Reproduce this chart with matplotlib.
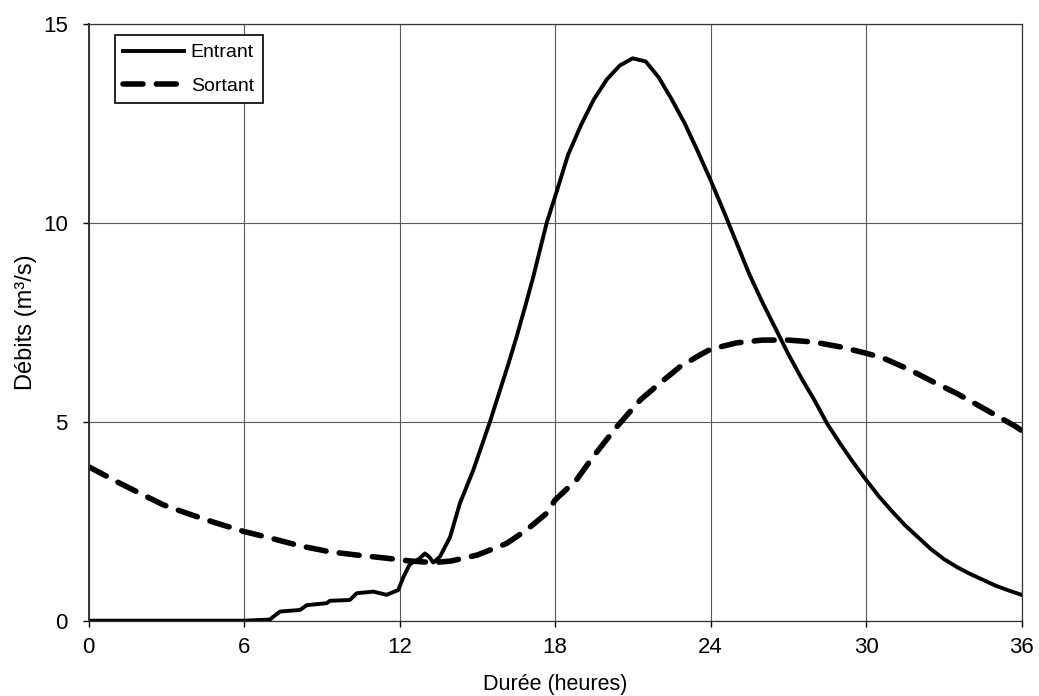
import matplotlib
matplotlib.use("Agg")
import matplotlib.pyplot as plt

plt.rcParams['font.family'] = ['Liberation Sans', 'DejaVu Sans']

# Débit entrant (m3/s)
entrant_t = [0, 6.0, 7.0, 7.13, 7.39, 8.16, 8.42, 9.19, 9.31, 10.08, 10.35, 10.99,
             11.5, 11.95, 12.15, 12.4, 12.79, 12.98, 13.15, 13.3, 13.56, 13.95,
             14.33, 14.85, 15.2, 15.49, 15.88, 16.2, 16.52, 16.85, 17.16, 17.45,
             17.68, 18.0, 18.5, 19.0, 19.5, 20.0, 20.5, 21.0, 21.5, 22.0, 22.5,
             23.0, 23.5, 24.0, 24.5, 25.0, 25.5, 26.0, 26.5, 27.0, 27.5, 28.0,
             28.5, 29.0, 29.5, 30.0, 30.5, 31.0, 31.5, 32.0, 32.5, 33.0, 33.5,
             34.0, 34.5, 35.0, 35.5, 36.0]
entrant_q = [0, 0, 0.03, 0.1, 0.23, 0.27, 0.39, 0.44, 0.5, 0.52, 0.69, 0.73,
             0.65, 0.77, 1.1, 1.42, 1.57, 1.69, 1.6, 1.46, 1.61, 2.1,
             2.95, 3.79, 4.45, 5.0, 5.8, 6.45, 7.14, 7.9, 8.64, 9.4,
             10.0, 10.65, 11.7, 12.45, 13.1, 13.6, 13.95, 14.13, 14.05, 13.65, 13.1,
             12.5, 11.8, 11.07, 10.3, 9.5, 8.7, 8.0, 7.35, 6.7, 6.1, 5.55,
             4.95, 4.45, 3.98, 3.54, 3.12, 2.75, 2.4, 2.1, 1.8, 1.55, 1.35,
             1.18, 1.03, 0.88, 0.76, 0.65]

# Débit sortant (m3/s)
sortant_t = [0, 1.22, 2.11, 2.89, 3.79, 4.75, 6.0, 6.88, 8.16, 9.32, 10.35, 11.5,
             12.4, 13.3, 14.0, 15.0, 16.13, 16.9, 17.68, 18.0, 18.83, 19.47,
             20.38, 21.28, 22.05, 22.82, 23.6, 24.0, 25.0, 26.0, 27.0, 28.0,
             29.0, 30.0, 30.66, 31.7, 32.59, 33.5, 34.52, 35.8, 36.0]
sortant_q = [3.87, 3.45, 3.16, 2.91, 2.7, 2.49, 2.24, 2.1, 1.88, 1.73, 1.65, 1.57,
             1.5, 1.46, 1.5, 1.65, 1.94, 2.28, 2.7, 3.03, 3.54, 4.12,
             4.87, 5.54, 5.97, 6.38, 6.68, 6.82, 6.98, 7.05, 7.05, 7.0,
             6.88, 6.72, 6.6, 6.3, 6.0, 5.71, 5.34, 4.87, 4.78]

xticks = [0, 6, 12, 18, 24, 30, 36]
yticks = [0, 5, 10, 15]

fig = plt.figure(figsize=(10.39, 6.96), dpi=100)
ax = fig.add_axes([0.0852, 0.1082, 0.898, 0.8578])

ax.plot(entrant_t, entrant_q, color='black', lw=2.8, label='Entrant',
        solid_joinstyle='round')
ax.plot(sortant_t, sortant_q, color='black', lw=4, dashes=(3.6, 2.4),
        label='Sortant', dash_capstyle='round')

ax.set_xlim(0, 36)
ax.set_ylim(0, 15)
ax.set_xticks(xticks)
ax.set_yticks(yticks)
ax.tick_params(direction='out', length=4, width=1, labelsize=16)
ax.tick_params(axis='x', pad=8)
ax.tick_params(axis='y', pad=11)
ax.grid(True, color='0.35', lw=0.8)
ax.set_axisbelow(True)
for s in ax.spines.values():
    s.set_color('0.2')
    s.set_linewidth(0.9)
ax.spines['left'].set_linewidth(1.4)

ax.set_xlabel('Durée (heures)', fontsize=15.5, labelpad=11)
ax.set_ylabel('Débits (m³/s)', fontsize=17, labelpad=4)

leg = ax.legend(loc='upper left', bbox_to_anchor=(0.028, 0.981), fontsize=14,
                fancybox=False, edgecolor='black', framealpha=1,
                handlelength=3.1, handletextpad=0.36, borderpad=0.45,
                labelspacing=0.8, borderaxespad=0)
leg.get_frame().set_linewidth(1.2)

fig.savefig('out.png', dpi=100)
